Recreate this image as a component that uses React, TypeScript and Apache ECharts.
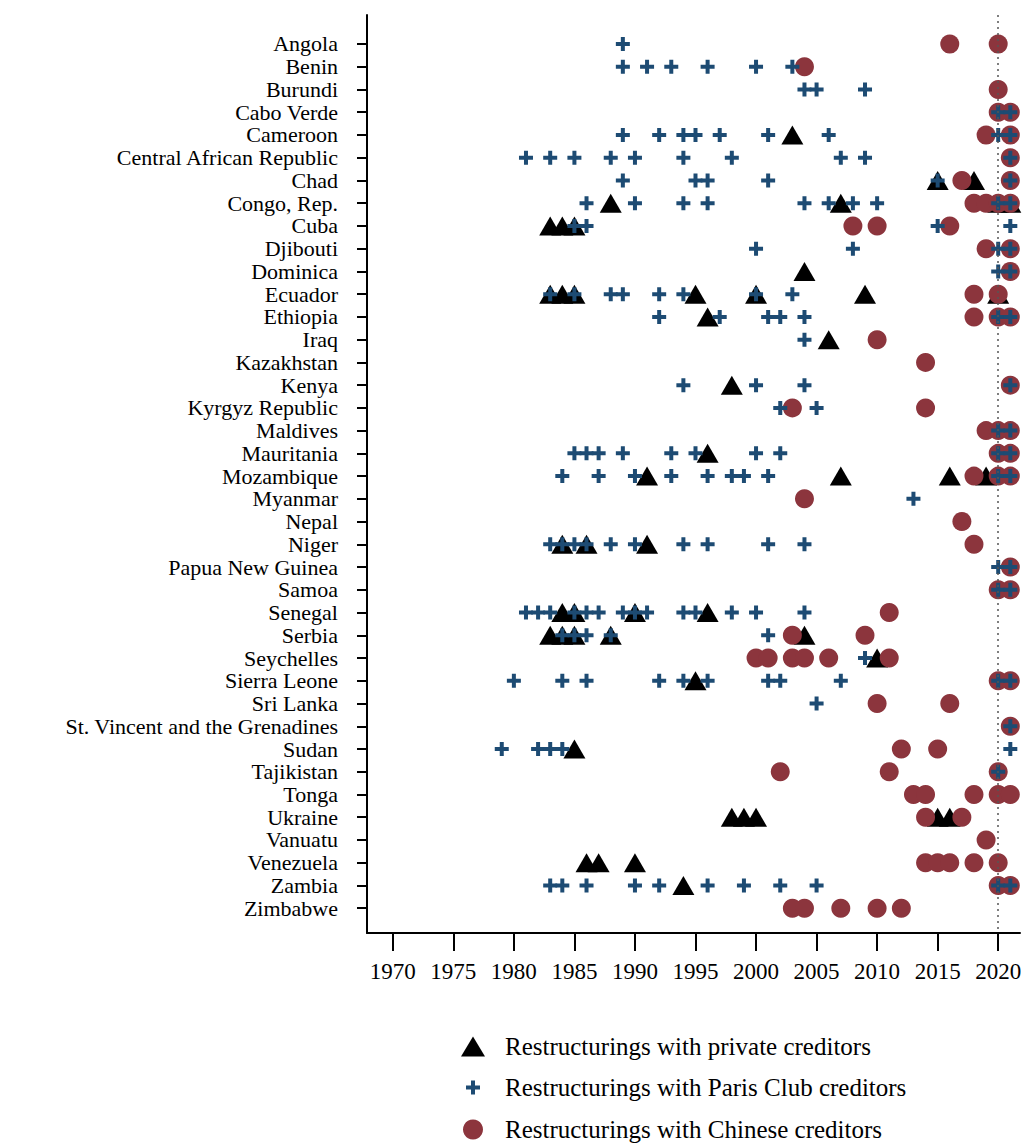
import React, { useEffect, useRef } from "react";
import * as echarts from "echarts";

const countries = [
  "Angola", "Benin", "Burundi", "Cabo Verde", "Cameroon", "Central African Republic", "Chad",
  "Congo, Rep.", "Cuba", "Djibouti", "Dominica", "Ecuador", "Ethiopia", "Iraq", "Kazakhstan",
  "Kenya", "Kyrgyz Republic", "Maldives", "Mauritania", "Mozambique", "Myanmar", "Nepal", "Niger",
  "Papua New Guinea", "Samoa", "Senegal", "Serbia", "Seychelles", "Sierra Leone", "Sri Lanka",
  "St. Vincent and the Grenadines", "Sudan", "Tajikistan", "Tonga", "Ukraine", "Vanuatu",
  "Venezuela", "Zambia", "Zimbabwe",
];

const yearTicks = [1970, 1975, 1980, 1985, 1990, 1995, 2000, 2005, 2010, 2015, 2020];

// Restructurings with private creditors (triangles)
const privateYears: number[][] = [
  [], [], [], [], [2003], [], [2015, 2018], [1988, 2007, 2020, 2021], [1983, 1984, 1985], [], [2004],
  [1983, 1984, 1985, 1995, 2000, 2009, 2020], [1996], [2006], [], [1998], [], [], [1996],
  [1991, 2007, 2016, 2019], [], [], [1984, 1986, 1991], [], [], [1984, 1985, 1990, 1996],
  [1983, 1984, 1985, 1988, 2004], [2010], [1995], [], [], [1985], [], [],
  [1998, 1999, 2000, 2015, 2016], [], [1986, 1987, 1990], [1994], [],
];

// Restructurings with Paris Club creditors (plus)
const parisYears: number[][] = [
  [1989],
  [1989, 1991, 1993, 1996, 2000, 2003],
  [2004, 2005, 2009],
  [2020, 2021],
  [1989, 1992, 1994, 1995, 1997, 2001, 2006, 2020, 2021],
  [1981, 1983, 1985, 1988, 1990, 1994, 1998, 2007, 2009, 2021],
  [1989, 1995, 1996, 2001, 2015, 2021],
  [1986, 1990, 1994, 1996, 2004, 2006, 2008, 2010, 2020, 2021],
  [1985, 1986, 2015, 2021],
  [2000, 2008, 2020, 2021],
  [2020, 2021],
  [1983, 1985, 1988, 1989, 1992, 1994, 2000, 2003],
  [1992, 1997, 2001, 2002, 2004, 2020, 2021],
  [2004],
  [],
  [1994, 2000, 2004, 2021],
  [2002, 2005],
  [2020, 2021],
  [1985, 1986, 1987, 1989, 1993, 1995, 2000, 2002, 2020, 2021],
  [1984, 1987, 1990, 1993, 1996, 1998, 1999, 2001, 2020, 2021],
  [2013],
  [],
  [1983, 1984, 1985, 1986, 1988, 1990, 1994, 1996, 2001, 2004],
  [2020, 2021],
  [2020, 2021],
  [1981, 1982, 1983, 1985, 1986, 1987, 1989, 1990, 1991, 1994, 1995, 1998, 2000, 2004],
  [1984, 1985, 1986, 1988, 2001],
  [2009],
  [1980, 1984, 1986, 1992, 1994, 1996, 2001, 2002, 2007, 2020, 2021],
  [2005],
  [2021],
  [1979, 1982, 1983, 1984, 2021],
  [2020],
  [],
  [],
  [],
  [],
  [1983, 1984, 1986, 1990, 1992, 1996, 1999, 2002, 2005, 2020, 2021],
  [],
];

// Restructurings with Chinese creditors (circles)
const chineseYears: number[][] = [
  [2016, 2020],
  [2004],
  [2020],
  [2020, 2021],
  [2019, 2021],
  [2021],
  [2017, 2021],
  [2018, 2019, 2020, 2021],
  [2008, 2010, 2016],
  [2019, 2021],
  [2021],
  [2018, 2020],
  [2018, 2020, 2021],
  [2010],
  [2014],
  [2021],
  [2003, 2014],
  [2019, 2020, 2021],
  [2020, 2021],
  [2018, 2020, 2021],
  [2004],
  [2017],
  [2018],
  [2021],
  [2020, 2021],
  [2011],
  [2003, 2009],
  [2000, 2001, 2003, 2004, 2006, 2011],
  [2020, 2021],
  [2010, 2016],
  [2021],
  [2012, 2015],
  [2002, 2011, 2020],
  [2013, 2014, 2018, 2020, 2021],
  [2014, 2017],
  [2019],
  [2014, 2015, 2016, 2018, 2020],
  [2020, 2021],
  [2003, 2004, 2007, 2010, 2012],
];

const referenceYear = 2020;

const NAME_PRIVATE = "Restructurings with private creditors";
const NAME_PARIS = "Restructurings with Paris Club creditors";
const NAME_CHINA = "Restructurings with Chinese creditors";

const toPoints = (rows: number[][]) =>
  rows.flatMap((years, i) => years.map((y) => [y, i]));

const FONT = "'Liberation Serif', 'Times New Roman', serif";
const PLUS = "path://M5,0H9V5H14V9H9V14H5V9H0V5H5Z";

const legendItem = (name: string, icon: string, w: number, h: number, top: number, padLeft: number) => ({
  orient: "vertical",
  left: 473 - w / 2,
  top,
  padding: 0,
  itemWidth: w,
  itemHeight: h,
  data: [{ name, icon }],
  textStyle: {
    fontFamily: FONT,
    fontSize: 25,
    color: "#000",
    lineHeight: 24,
    padding: [0, 0, 0, padLeft],
  },
});

export default function App() {
  const ref = useRef<HTMLDivElement>(null);

  useEffect(() => {
    if (!ref.current) return;
    const chart = echarts.init(ref.current, undefined, { renderer: "svg" });
    const idx = countries.map((_, i) => i);
    chart.setOption({
      animation: false,
      backgroundColor: "#ffffff",
      grid: { left: 367, right: 5, top: 15, bottom: 212 },
      xAxis: {
        type: "value",
        min: 1967.87,
        max: 2021.8,
        splitLine: { show: false },
        axisLine: { show: true, onZero: false, lineStyle: { color: "#000", width: 2 } },
        axisTick: { show: true, length: 18, lineStyle: { color: "#000", width: 2 }, customValues: yearTicks },
        axisLabel: {
          customValues: yearTicks,
          margin: 27,
          fontFamily: FONT,
          fontSize: 23,
          color: "#000",
          formatter: (v: number) => String(Math.round(v)),
        },
      },
      yAxis: {
        type: "value",
        inverse: true,
        min: -1.275,
        max: 39.09,
        splitLine: { show: false },
        axisLine: { show: true, onZero: false, lineStyle: { color: "#000", width: 2 } },
        axisTick: { show: true, length: 10, lineStyle: { color: "#000", width: 2 }, customValues: idx },
        axisLabel: {
          customValues: idx,
          showMinLabel: true,
          showMaxLabel: true,
          hideOverlap: false,
          margin: 29,
          fontFamily: FONT,
          fontSize: 22,
          lineHeight: 22,
          color: "#000",
          formatter: (v: number) => countries[Math.round(v)] ?? "",
        },
      },
      legend: [
        legendItem(NAME_PRIVATE, "triangle", 24, 20, 1034, 15),
        legendItem(NAME_PARIS, PLUS, 14, 14, 1075, 20),
        legendItem(NAME_CHINA, "circle", 20, 20, 1117, 17),
      ],
      series: [
        {
          name: "ref",
          type: "scatter",
          data: [],
          silent: true,
          markLine: {
            silent: true,
            symbol: "none",
            label: { show: false },
            lineStyle: { type: [2, 4], color: "#555", width: 1.5 },
            data: [{ xAxis: referenceYear }],
          },
        },
        {
          name: NAME_PRIVATE,
          type: "scatter",
          symbol: "triangle",
          symbolSize: [22, 19],
          itemStyle: { color: "#000", opacity: 1 },
          data: toPoints(privateYears),
        },
        {
          name: NAME_CHINA,
          type: "scatter",
          symbol: "circle",
          symbolSize: 19,
          itemStyle: { color: "#8c353d", opacity: 1 },
          data: toPoints(chineseYears),
        },
        {
          name: NAME_PARIS,
          type: "scatter",
          symbol: PLUS,
          symbolSize: 14,
          itemStyle: { color: "#1d4b73", opacity: 1 },
          data: toPoints(parisYears),
        },
      ],
    });
    return () => chart.dispose();
  }, []);

  return (
    <div
      ref={ref}
      style={{ position: "absolute", left: 0, top: 0, width: 1025, height: 1145 }}
    />
  );
}
